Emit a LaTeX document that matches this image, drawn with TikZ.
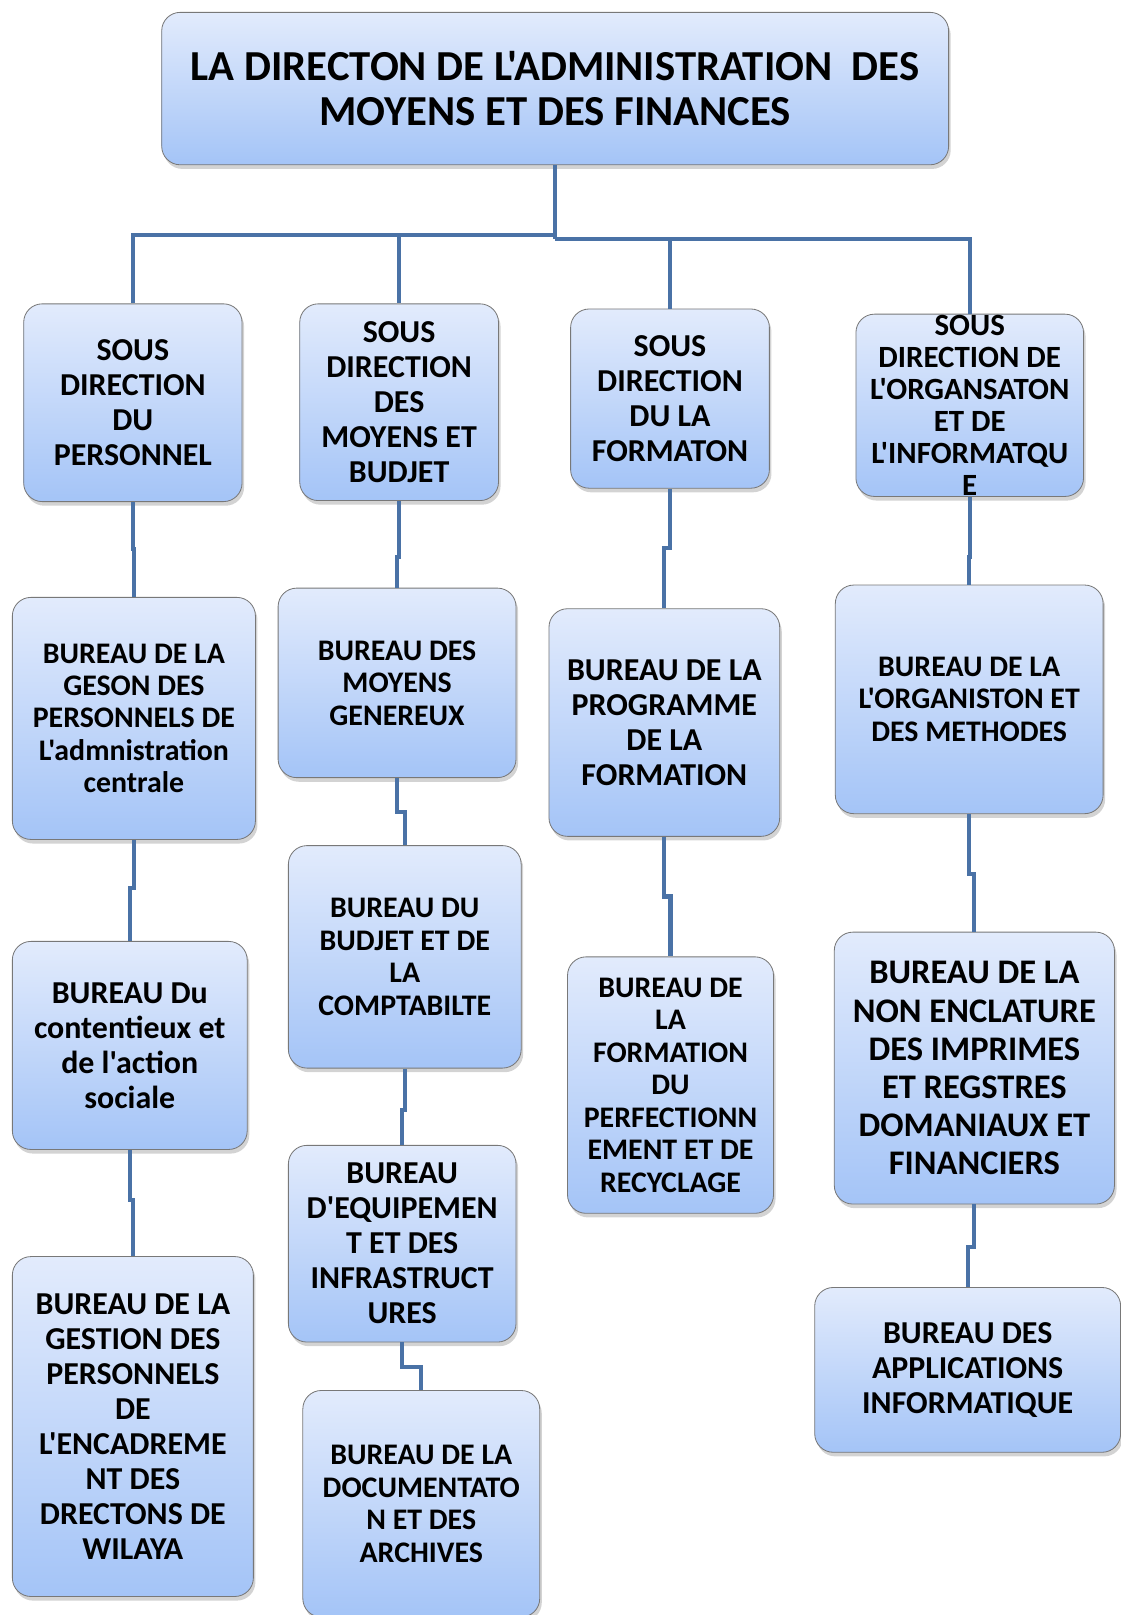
\documentclass[tikz,border=0pt]{standalone}
\usepackage{fontspec}
\setmainfont{Carlito}[Ligatures=TeXOff]
\usetikzlibrary{shadows}

\definecolor{boxtop}{RGB}{226,235,252}
\definecolor{boxbot}{RGB}{164,196,247}
\definecolor{boxline}{RGB}{120,120,120}
\definecolor{linkcol}{RGB}{74,114,166}

\tikzset{
	unit/.style={draw=boxline, line width=0.8pt, rounded corners=18pt,
		top color=boxtop, bottom color=boxbot, align=center, inner sep=1pt,
		drop shadow={opacity=0.35, shadow xshift=2pt, shadow yshift=-4pt}},
	txtT/.style={font=\fontsize{41.5}{44}\selectfont\bfseries},
	txtXL/.style={font=\fontsize{33.5}{37}\selectfont\bfseries},
	txtL/.style={font=\fontsize{31}{34}\selectfont\bfseries},
	txtM/.style={font=\fontsize{29}{31.5}\selectfont\bfseries},
	txtS/.style={font=\fontsize{30}{31}\selectfont\bfseries},
	link/.style={draw=linkcol, line width=4pt}
}

\begin{document}
\begin{tikzpicture}[x=1pt, y=-1pt]
		\useasboundingbox (0,0) rectangle (1088,1568);

		% direction
		\node[unit, txtT, minimum width=764pt, minimum height=148pt] (top) at (539,86)
			{LA DIRECTON DE L'ADMINISTRATION\ \ DES\\MOYENS ET DES FINANCES};

		% sous directions
		\node[unit, txtL, minimum width=212pt, minimum height=192pt] (A1) at (129,391)
			{SOUS\\DIRECTION\\DU\\PERSONNEL};
		\node[unit, txtL, minimum width=193pt, minimum height=191pt] (B1) at (387.5,390.5)
			{SOUS\\DIRECTION\\DES\\MOYENS ET\\BUDJET};
		\node[unit, txtL, minimum width=193pt, minimum height=174pt] (C1) at (650.5,387)
			{SOUS\\DIRECTION\\DU LA\\FORMATON};
		\node[unit, txtS, inner ysep=0pt, minimum width=221pt, minimum height=177pt] (D1) at (941.5,393.5)
			{SOUS\\DIRECTION DE\\L'ORGANSATON\\ET DE\\L'INFORMATQU\\E};

		% bureaux
		\node[unit, txtM, minimum width=236pt, minimum height=235pt] (A2) at (130,697.5)
			{BUREAU DE LA\\GESON DES\\PERSONNELS DE\\L'admnistration\\centrale};
		\node[unit, txtL, minimum width=228pt, minimum height=202pt] (A3) at (126,1015)
			{BUREAU Du\\contentieux et\\de l'action\\sociale};
		\node[unit, txtL, minimum width=234pt, minimum height=330pt] (A4) at (129,1385)
			{BUREAU DE LA\\GESTION DES\\PERSONNELS\\DE\\L'ENCADREME\\NT DES\\DRECTONS DE\\WILAYA};

		\node[unit, txtM, minimum width=231pt, minimum height=184pt] (B2) at (385.5,663)
			{BUREAU DES\\MOYENS\\GENEREUX};
		\node[unit, txtM, minimum width=226pt, minimum height=216pt] (B3) at (393,929)
			{BUREAU DU\\BUDJET ET DE\\LA\\COMPTABILTE};
		\node[unit, txtL, minimum width=221pt, minimum height=191pt] (B4) at (390.5,1207.5)
			{BUREAU\\D'EQUIPEMEN\\T ET DES\\INFRASTRUCT\\URES};
		\node[unit, txtM, minimum width=230pt, minimum height=220pt] (B5) at (409,1460)
			{BUREAU DE LA\\DOCUMENTATO\\N ET DES\\ARCHIVES};

		\node[unit, txtL, minimum width=224pt, minimum height=221pt] (C2) at (645,701.5)
			{BUREAU DE LA\\PROGRAMME\\DE LA\\FORMATION};
		\node[unit, txtM, minimum width=200pt, minimum height=249pt] (C3) at (651,1053.5)
			{BUREAU DE\\LA\\FORMATION\\DU\\PERFECTIONN\\EMENT ET DE\\RECYCLAGE};

		\node[unit, txtM, minimum width=260pt, minimum height=222pt] (D2) at (941,679)
			{BUREAU DE LA\\L'ORGANISTON ET\\DES METHODES};
		\node[unit, txtXL, minimum width=272pt, minimum height=264pt] (D3) at (946,1037)
			{BUREAU DE LA\\NON ENCLATURE\\DES IMPRIMES\\ET REGSTRES\\DOMANIAUX ET\\FINANCIERS};
		\node[unit, txtL, minimum width=297pt, minimum height=160pt] (D4) at (939.5,1330)
			{BUREAU DES\\APPLICATIONS\\INFORMATIQUE};

		% liaisons
		\coordinate (busL) at (539,228);
		\coordinate (busR) at (539,232);
		\draw[link] (top.south) -- (busR);
		\draw[link] (busL) -| (A1.north);
		\draw[link] (busL) -| (B1.north);
		\draw[link] (busR) -| (C1.north);
		\draw[link] (busR) -| (D1.north);

		\draw[link] (A1.south) -- ++(0,46) -| (A2.north);
		\draw[link] (A2.south) -- ++(0,47) -| (A3.north);
		\draw[link] (A3.south) -- ++(0,49) -| (A4.north);

		\draw[link] (B1.south) -- ++(0,54) -| (B2.north);
		\draw[link] (B2.south) -- ++(0,33) -| (B3.north);
		\draw[link] (B3.south) -- ++(0,40) -| (B4.north);
		\draw[link] (B4.south) -- ++(0,24) -| (B5.north);

		\draw[link] (C1.south) -- ++(0,58) -| (C2.north);
		\draw[link] (C2.south) -- ++(0,58) -| (C3.north);

		\draw[link] (D1.south) -- ++(0,58) -| (D2.north);
		\draw[link] (D2.south) -- ++(0,58) -| (D3.north);
		\draw[link] (D3.south) -- ++(0,41) -| (D4.north);
	\end{tikzpicture}
\end{document}
